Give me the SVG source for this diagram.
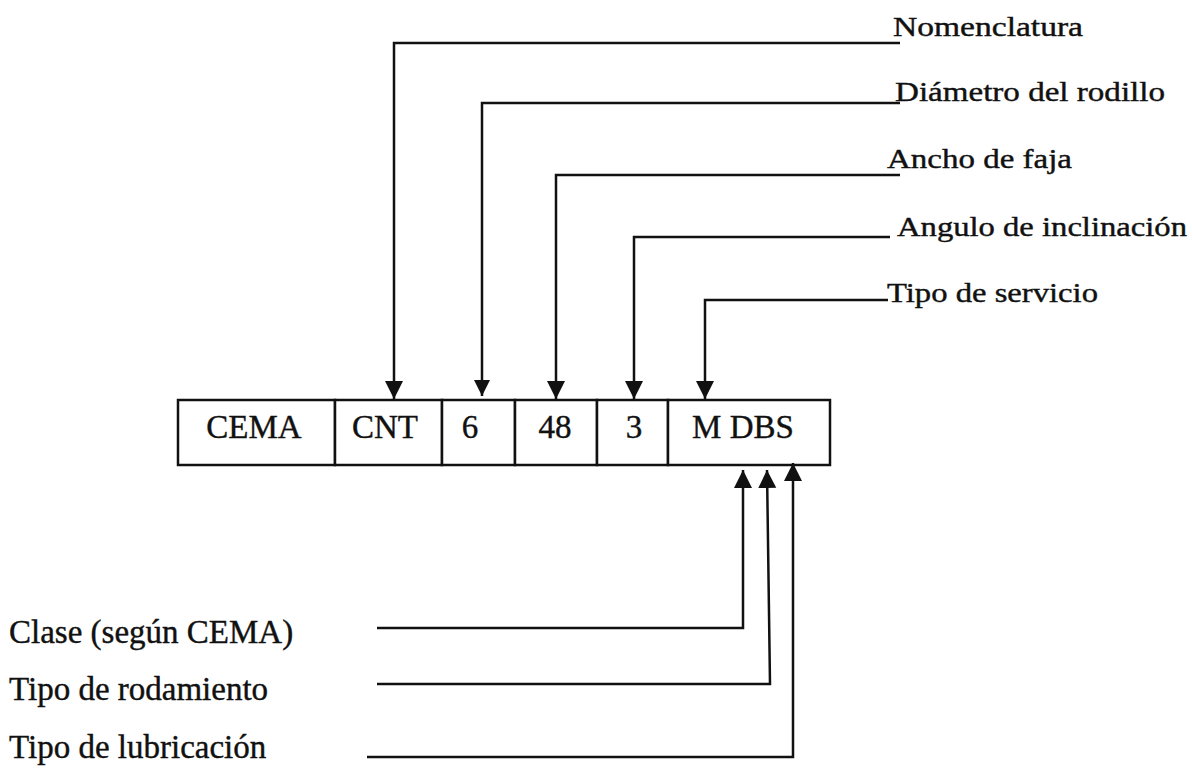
<svg xmlns="http://www.w3.org/2000/svg" width="1193" height="776" viewBox="0 0 1193 776">
  <style>
    .bg { fill: #ffffff; }
    .cell { fill: #ffffff; stroke: #111111; stroke-width: 2.5; }
    .ctext { font-family: "Liberation Serif", "Times New Roman", serif; font-size: 33px; fill: #111111; stroke: #111111; stroke-width: 0.4; text-anchor: middle; }
    .tlabel { font-family: "Liberation Serif", "Times New Roman", serif; font-size: 27px; fill: #111111; stroke: #111111; stroke-width: 0.4; }
    .blabel { font-family: "Liberation Serif", "Times New Roman", serif; font-size: 33px; fill: #111111; stroke: #111111; stroke-width: 0.4; }
    .conn { fill: none; stroke: #111111; stroke-width: 2.5; stroke-linejoin: miter; }
  </style>
  <defs>
    <marker id="ah" markerWidth="20" markerHeight="20" refX="18" refY="9" orient="auto" markerUnits="userSpaceOnUse">
      <path d="M0,0 L18,9 L0,18 Z" fill="#111111"/>
    </marker>
    <marker id="ahs" markerWidth="18" markerHeight="18" refX="16" refY="8" orient="auto" markerUnits="userSpaceOnUse">
      <path d="M0,0 L16,8 L0,16 Z" fill="#111111"/>
    </marker>
  </defs>
  <rect class="bg" x="0" y="0" width="1193" height="776"/>

  <g id="code-box">
    <g id="cell-cema"><rect class="cell" x="178" y="400" width="157" height="65"/><text class="ctext" x="254" y="438">CEMA</text></g>
    <g id="cell-cnt"><rect class="cell" x="335" y="400" width="107" height="65"/><text class="ctext" x="385" y="438">CNT</text></g>
    <g id="cell-6"><rect class="cell" x="442" y="400" width="73" height="65"/><text class="ctext" x="470" y="438">6</text></g>
    <g id="cell-48"><rect class="cell" x="515" y="400" width="82" height="65"/><text class="ctext" x="555" y="438">48</text></g>
    <g id="cell-3"><rect class="cell" x="597" y="400" width="71" height="65"/><text class="ctext" x="634" y="438">3</text></g>
    <g id="cell-mdbs"><rect class="cell" x="668" y="400" width="162" height="65"/><text class="ctext" x="743" y="438">M DBS</text></g>
  </g>

  <g id="label-nomenclatura"><text class="tlabel" x="893" y="36" textLength="190" lengthAdjust="spacingAndGlyphs">Nomenclatura</text></g>
  <g id="label-diametro"><text class="tlabel" x="895" y="101" textLength="270" lengthAdjust="spacingAndGlyphs">Diámetro del rodillo</text></g>
  <g id="label-ancho"><text class="tlabel" x="887" y="168" textLength="185" lengthAdjust="spacingAndGlyphs">Ancho de faja</text></g>
  <g id="label-angulo"><text class="tlabel" x="897" y="236" textLength="290" lengthAdjust="spacingAndGlyphs">Angulo de inclinación</text></g>
  <g id="label-servicio"><text class="tlabel" x="887" y="302" textLength="211" lengthAdjust="spacingAndGlyphs">Tipo de servicio</text></g>

  <g id="label-clase"><text class="blabel" x="9" y="643">Clase (según CEMA)</text></g>
  <g id="label-rodamiento"><text class="blabel" x="9" y="700">Tipo de rodamiento</text></g>
  <g id="label-lubricacion"><text class="blabel" x="9" y="758">Tipo de lubricación</text></g>

  <g id="connectors">
    <path class="conn" d="M900,43 H394 V399" marker-end="url(#ah)"/>
    <path class="conn" d="M900,103 H482 V396" marker-end="url(#ahs)"/>
    <path class="conn" d="M900,175 H556 V399" marker-end="url(#ah)"/>
    <path class="conn" d="M890,237 H634 V399" marker-end="url(#ah)"/>
    <path class="conn" d="M888,300 H705 V399" marker-end="url(#ah)"/>
    <path class="conn" d="M377,628 H743 V470" marker-end="url(#ah)"/>
    <path class="conn" d="M377,684 H770 L767,470" marker-end="url(#ah)"/>
    <path class="conn" d="M367,757 H793 V463" marker-end="url(#ah)"/>
  </g>
</svg>
